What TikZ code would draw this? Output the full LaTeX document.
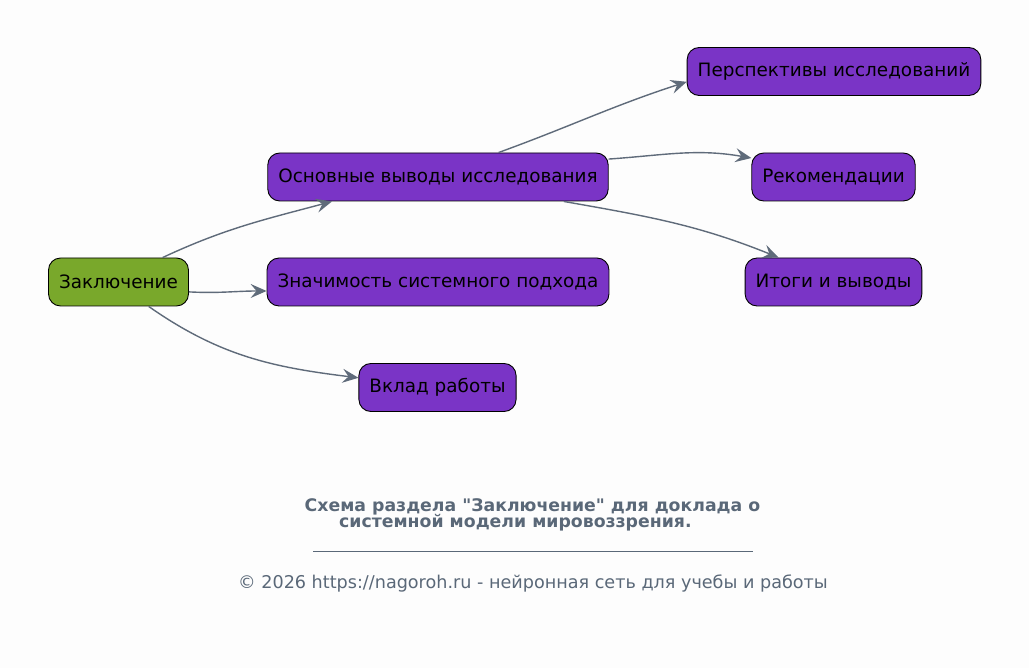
\documentclass[tikz,border=0pt]{standalone}
\usepackage{fontspec}
\setmainfont{DejaVu Sans}[Ligatures=TeXOff]
\usetikzlibrary{arrows.meta}

\definecolor{rootgreen}{HTML}{79A82B}
\definecolor{leafpurple}{HTML}{7A34C6}
\definecolor{edgegray}{HTML}{5F6B7A}
\definecolor{textgray}{HTML}{5A6878}
\definecolor{paper}{HTML}{FDFDFD}

\tikzset{
	box/.style={draw=black, line width=0.9pt, rounded corners=12pt, minimum height=48pt, inner xsep=10.5pt,
		font=\fontsize{18.4}{21}\selectfont, text=black},
	rootbox/.style={box, fill=rootgreen},
	leafbox/.style={box, fill=leafpurple},
	link/.style={draw=edgegray, line width=1.4pt, -{Stealth[length=16pt, width=14pt, inset=6pt]}},
}

\begin{document}
\begin{tikzpicture}[x=1pt, y=1pt]
	%\draw[help lines] (0,0) grid[step=50] (1029,-668);
	\fill[paper] (0,0) rectangle (1029,-668);
	\useasboundingbox (0,0) rectangle (1029,-668);
	\node[rootbox] (zakl) at (118.5,-282) {Заключение};
	\node[leafbox] (osn) at (438,-177) {Основные выводы исследования};
	\node[leafbox] (znach) at (438,-282) {Значимость системного подхода};
	\node[leafbox] (vklad) at (437.5,-387.5) {Вклад работы};
	\node[leafbox] (persp) at (834,-71.5) {Перспективы исследований};
	\node[leafbox] (rekom) at (833.5,-177) {Рекомендации};
	\node[leafbox] (itogi) at (833.5,-282) {Итоги и выводы};
	\draw[link] (zakl.29) to[out=25, in=195] (osn.193);
	\draw[link] (zakl.-8) to[out=-3, in=180] (znach.183);
	\draw[link] (zakl.-39) to[out=-35, in=173] (vklad.173);
	\draw[link] (osn.22) to[out=20, in=198] (persp.184);
	\draw[link] (osn.6) to[out=4, in=170] (rekom.167);
	\draw[link] (osn.-11) to[out=-10, in=158] (itogi.156);
	\node[text=textgray, font=\fontsize{17.3}{20}\bfseries\selectfont] (cap1) at (532.5,-507) {Схема раздела "Заключение" для доклада о};
	\node[text=textgray, font=\fontsize{17.3}{20}\bfseries\selectfont, anchor=west, inner xsep=0pt] (cap2) at (339,-523) {системной модели мировоззрения.};
	\coordinate (ruleL) at (313,-551);
	\coordinate (ruleR) at (753,-551);
	\draw[textgray, line width=0.8pt] (ruleL) -- (ruleR);
	\node[text=textgray, font=\fontsize{17.6}{20}\selectfont] (copy) at (533,-583) {© 2026 https://nagoroh.ru - нейронная сеть для учебы и работы};
\end{tikzpicture}
\end{document}
